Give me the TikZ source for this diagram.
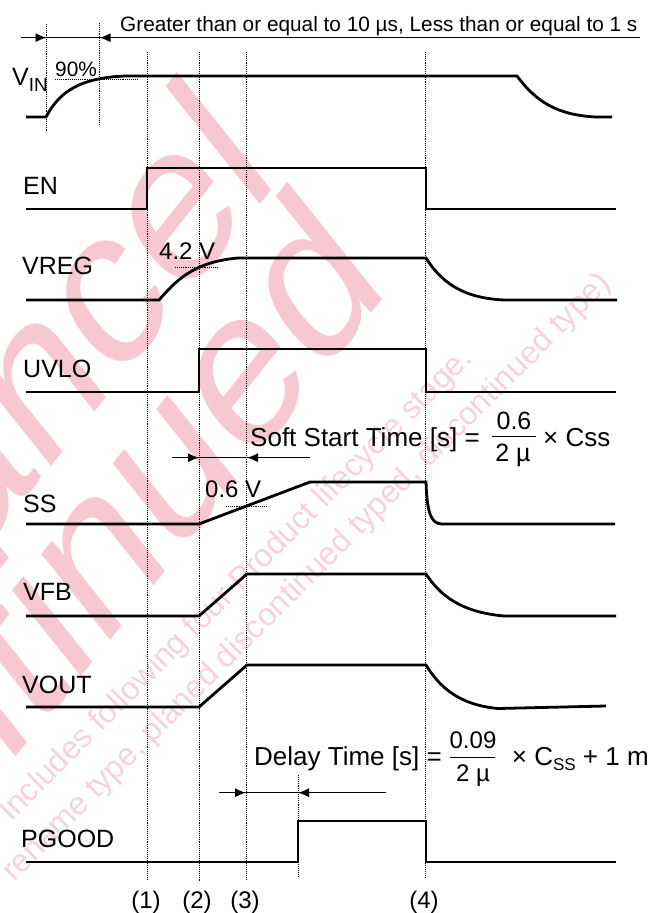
\documentclass[tikz,border=0pt]{standalone}
\usepackage{fontspec}
\setmainfont{Liberation Sans}
\usetikzlibrary{arrows.meta}
\definecolor{wmarkc}{RGB}{248,200,210}
\definecolor{wmarklc}{RGB}{247,210,218}
\colorlet{sigc}{black}
\colorlet{guidec}{black}

\begin{document}
\begin{tikzpicture}[x=1pt,y=-1pt,
  sig/.style={draw=sigc,line width=2.8pt,line join=miter},
  guide/.style={draw=guidec,line width=0.9pt,densely dotted},
  dim/.style={draw=black,line width=1.3pt},
  dimtip/.style={dim,-{Latex[length=11pt,width=9pt]}},
  lbl/.style={anchor=base west,inner sep=0pt,font=\fontsize{25}{25}\selectfont},
  note/.style={anchor=base west,inner sep=0pt,font=\fontsize{26}{26}\selectfont},
  num/.style={anchor=base,inner sep=0pt,font=\fontsize{24}{24}\selectfont},
  small/.style={anchor=base west,inner sep=0pt,font=\fontsize{20.8}{20.8}\selectfont},
  wmbig/.style={text=wmarkc,inner sep=0pt,anchor=base east,xscale=0.8,rotate=45,font=\fontsize{230}{230}\selectfont},
  wmsmall/.style={text=wmarklc,inner sep=0pt,anchor=base east,rotate=45,font=\fontsize{32}{32}\selectfont}]
\useasboundingbox (0,0) rectangle (650,913);

% watermark
\node[wmbig] (wmcancel) at (281,179) {Cancel};
\node[wmbig] (wmdisc) at (391,289) {Discontinued};
\node[wmsmall] (wmline1) at (474,360) {Includes following four Product lifecycle stage.};
\node[wmsmall] (wmline2) at (612,285) {rename type, planed discontinued typed, discontinued type)};

% time span of VIN
\coordinate (spanL) at (21,37.7);
\coordinate (spanA) at (46.5,37.7);
\coordinate (spanB) at (99.5,37.7);
\coordinate (spanR) at (122,37.7);
\coordinate (spanE) at (640,37.7);
\draw[dim] (spanL) -- (spanR);
\draw[dimtip] (spanL) -- (spanA);
\draw[dimtip] (spanR) -- (spanB);
\draw[line width=0.9pt] (spanR) -- (spanE);
\node[small] (spantxt) at (120,31) {Greater than or equal to 10 µs, Less than or equal to 1 s};

\draw[guide] (46.5,24) -- (46.5,132);
\draw[guide] (99.5,23) -- (99.5,125);
\foreach \x/\yb in {147/880,199/882,246.5/879,425.5/877}
  \draw[guide] (\x,52) -- (\x,\yb);
\draw[guide] (298,775) -- (298,877);

\draw[guide] (55,79.3) -- (138,79.3);
\draw[guide] (175,267.7) -- (217,267.7);
\draw[guide] (226,506.7) -- (267,506.7);

\draw[sig] (26,117) -- (46,117) .. controls (57,97) and (73,78) .. (125,76) -- (517,76)
  .. controls (535,100) and (555,115) .. (596,117) -- (612,117);
\draw[sig] (26,209) -- (147,209) -- (147,168) -- (426,168) -- (426,209) -- (616,209);
\draw[sig] (26,300) -- (159,300) .. controls (175,282) and (192,262) .. (238,258) -- (426,258)
  .. controls (440,280) and (460,298) .. (504,300) -- (617,300);
\draw[sig] (26,392) -- (199,392) -- (199,349) -- (426,349) -- (426,392) -- (616,392);
\draw[sig] (26,524) -- (199,524) -- (310,482) -- (426,482)
  .. controls (427,510) and (430,524) .. (442,524) -- (615,524);
\draw[sig] (26,616) -- (199,616) -- (247,574) -- (426,574)
  .. controls (440,595) and (460,612) .. (504,616) -- (616,616);
\draw[sig] (26,707) -- (199,707) -- (247,665) -- (426,665)
  .. controls (440,688) and (460,705) .. (498,708.5) -- (606,706);
\draw[sig] (26,862) -- (298,862) -- (298,821) -- (426,821) -- (426,862) -- (616,862);

\node[lbl] (vinlbl) at (12,85) {V\raisebox{-6pt}{\fontsize{19}{19}\selectfont IN}};
\node[lbl] (enlbl) at (23,194) {EN};
\node[lbl] (vreglbl) at (22,274) {VREG};
\node[lbl] (uvlolbl) at (23,377) {UVLO};
\node[lbl] (sslbl) at (23,512) {SS};
\node[lbl] (vfblbl) at (23,600) {VFB};
\node[lbl] (voutlbl) at (22,693) {VOUT};
\node[lbl] (pgoodlbl) at (21,847) {PGOOD};

\node[small] (pct90) at (55,76) {90\%};
\node[anchor=base west,inner sep=0pt,font=\fontsize{24}{24}\selectfont] (v42) at (159,259) {4.2 V};
\node[anchor=base west,inner sep=0pt,font=\fontsize{24}{24}\selectfont] (v06) at (205,497) {0.6 V};

\foreach \x/\n in {146/1,197/2,245/3,424/4}
  \node[num] (mark\n) at (\x,908) {(\n)};

% soft start time
\coordinate (ssL) at (172,457.7);
\coordinate (ssA) at (199,457.7);
\coordinate (ssB) at (247,457.7);
\coordinate (ssR) at (310,457.7);
\draw[dim] (ssL) -- (ssR);
\draw[dimtip] (ssL) -- (ssA);
\draw[dimtip] (ssR) -- (ssB);
\node[note] (sstxt) at (250,446.7) {Soft Start Time [s] =};
\node[num,font=\fontsize{25}{25}\selectfont] (ssnum) at (514,429.3) {0.6};
\draw[line width=1.5pt] (491.7,436.7) -- (535.7,436.7);
\node[num,font=\fontsize{25}{25}\selectfont] (ssden) at (513,461.7) {2 µ};
\node[note] (sstail) at (543,446) {× Css};

% delay time
\coordinate (dlL) at (219,792.7);
\coordinate (dlA) at (246,792.7);
\coordinate (dlB) at (298,792.7);
\coordinate (dlR) at (386,792.7);
\draw[dim] (dlL) -- (dlR);
\draw[dimtip] (dlL) -- (dlA);
\draw[dimtip] (dlR) -- (dlB);
\node[note] (dltxt) at (254,765.5) {Delay Time [s] =};
\node[num] (dlnum) at (473,748.3) {0.09};
\draw[line width=1.5pt] (450,757.3) -- (495,757.3);
\node[num] (dlden) at (473,781) {2 µ};
\node[note] (dltail) at (511.7,765) {× C\raisebox{-5pt}{\fontsize{17}{17}\selectfont SS} + 1 m};

\end{tikzpicture}
\end{document}
